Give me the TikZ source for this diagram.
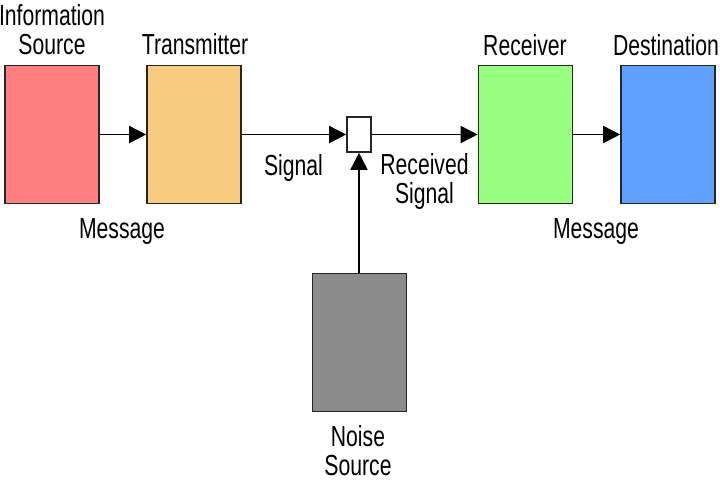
\documentclass[tikz,border=0pt]{standalone}
\usepackage{fontspec}
\setmainfont[FakeStretch=0.73]{Liberation Sans}
\usetikzlibrary{arrows.meta}
\definecolor{srcred}{RGB}{255,128,128}
\definecolor{txorange}{RGB}{248,204,128}
\definecolor{rxgreen}{RGB}{153,255,128}
\definecolor{dstblue}{RGB}{96,160,255}
\definecolor{noisegray}{RGB}{140,140,140}
\begin{document}
\begin{tikzpicture}[x=1pt,y=-1pt,
  box/.style={draw=black!85, line width=1.6pt, minimum width=94pt, minimum height=138pt, inner sep=0pt},
  lbl/.style={font=\fontsize{29}{29}\selectfont, align=center, inner sep=0pt, anchor=base},
  conn/.style={line width=1.6pt, -{Triangle[length=17pt,width=17pt]}}]
\useasboundingbox[fill=white] (0,0) rectangle (720,480);
\node[box, fill=srcred] (src) at (52,134.5) {};
\node[box, fill=txorange] (tx) at (194,134.5) {};
\node[box, fill=rxgreen] (rx) at (525.5,134.5) {};
\node[box, fill=dstblue] (dst) at (668,134.5) {};
\node[box, fill=noisegray] (noise) at (359.5,342.5) {};
\node[draw=black!85, line width=1.6pt, fill=white, minimum width=24pt, minimum height=35pt, inner sep=0pt] (mix) at (359,134.5) {};
\draw[conn] (src) -- (tx);
\draw[conn] (tx.east) -- (mix.west);
\draw[conn] (mix.east) -- (rx.west);
\draw[conn] (rx) -- (dst);
\draw[conn] (noise.north -| mix.south) -- (mix.south);
\node[lbl] (lsrc) at (52,54) {Information\\Source};
\node[lbl] (ltx) at (195,54) {Transmitter};
\node[lbl] (lrx) at (525,55) {Receiver};
\node[lbl] (ldst) at (666,55) {Destination};
\node[lbl] (lmsg1) at (122,238) {Message};
\node[lbl] (lmsg2) at (596,238) {Message};
\node[lbl] (lsig) at (293.5,175) {Signal};
\node[lbl] (lrsig) at (424.5,203) {Received\\Signal};
\node[lbl] (lnoise) at (358,475) {Noise\\Source};
\end{tikzpicture}
\end{document}
